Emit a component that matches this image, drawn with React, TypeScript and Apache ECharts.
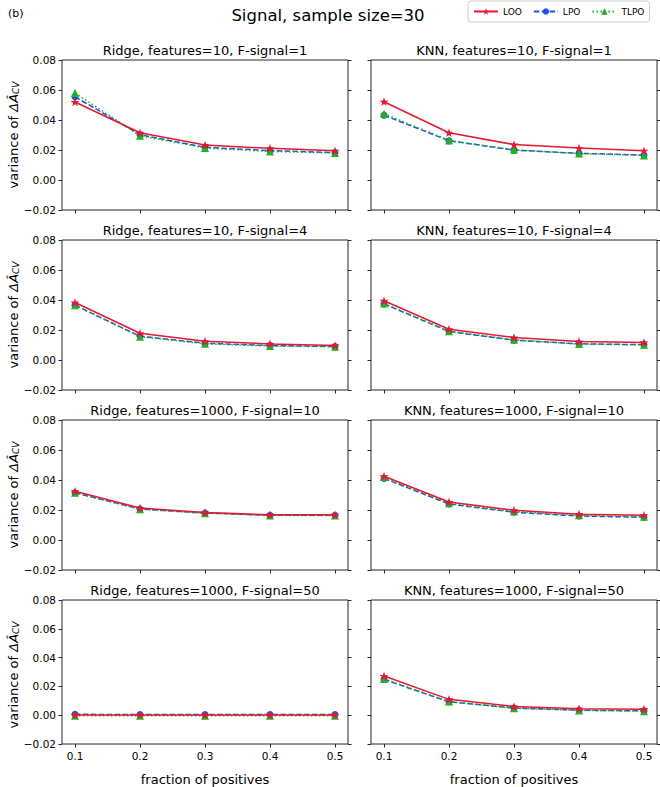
import React, { useEffect, useRef } from "react";
import * as echarts from "echarts";

const fractions = [0.1, 0.2, 0.3, 0.4, 0.5];
const methodNames = ["LOO", "LPO", "TLPO"];
const panelTitles = [
  "Ridge, features=10, F-signal=1",
  "KNN, features=10, F-signal=1",
  "Ridge, features=10, F-signal=4",
  "KNN, features=10, F-signal=4",
  "Ridge, features=1000, F-signal=10",
  "KNN, features=1000, F-signal=10",
  "Ridge, features=1000, F-signal=50",
  "KNN, features=1000, F-signal=50",
];

// Ridge, features=10, F-signal=1
const looRidge10s1 = [0.052, 0.0315, 0.0233, 0.0211, 0.0195];
const lpoRidge10s1 = [0.0555, 0.0302, 0.0218, 0.0196, 0.0183];
const tlpoRidge10s1 = [0.058, 0.0295, 0.0213, 0.019, 0.018];
// KNN, features=10, F-signal=1
const looKnn10s1 = [0.0522, 0.0315, 0.0236, 0.0213, 0.0195];
const lpoKnn10s1 = [0.0432, 0.0262, 0.0199, 0.0178, 0.0166];
const tlpoKnn10s1 = [0.0442, 0.0264, 0.0201, 0.0176, 0.0164];
// Ridge, features=10, F-signal=4
const looRidge10s4 = [0.0383, 0.0178, 0.0125, 0.0107, 0.0096];
const lpoRidge10s4 = [0.0365, 0.0158, 0.0112, 0.0096, 0.009];
const tlpoRidge10s4 = [0.0365, 0.0155, 0.0108, 0.0093, 0.0088];
// KNN, features=10, F-signal=4
const looKnn10s4 = [0.0395, 0.0205, 0.015, 0.0123, 0.0117];
const lpoKnn10s4 = [0.0374, 0.019, 0.0132, 0.0108, 0.0102];
const tlpoKnn10s4 = [0.0376, 0.0192, 0.0135, 0.0106, 0.0101];
// Ridge, features=1000, F-signal=10
const looRidge1000s10 = [0.0325, 0.0213, 0.0183, 0.0168, 0.0168];
const lpoRidge1000s10 = [0.0315, 0.0207, 0.018, 0.0165, 0.0165];
const tlpoRidge1000s10 = [0.0315, 0.0205, 0.0178, 0.0164, 0.0163];
// KNN, features=1000, F-signal=10
const looKnn1000s10 = [0.0425, 0.0253, 0.0198, 0.0172, 0.0165];
const lpoKnn1000s10 = [0.041, 0.024, 0.0185, 0.016, 0.0152];
const tlpoKnn1000s10 = [0.042, 0.0245, 0.019, 0.0165, 0.0155];
// Ridge, features=1000, F-signal=50
const looRidge1000s50 = [0.0002, 0.0002, 0.0002, 0.0002, 0.0002];
const lpoRidge1000s50 = [0.0006, 0.0005, 0.0005, 0.0005, 0.0005];
const tlpoRidge1000s50 = [-0.0004, -0.0004, -0.0004, -0.0004, -0.0004];
// KNN, features=1000, F-signal=50
const looKnn1000s50 = [0.0272, 0.011, 0.006, 0.0045, 0.0042];
const lpoKnn1000s50 = [0.0248, 0.0093, 0.005, 0.0035, 0.003];
const tlpoKnn1000s50 = [0.0252, 0.0095, 0.0048, 0.0033, 0.0028];

const panelData = [
  [looRidge10s1, lpoRidge10s1, tlpoRidge10s1],
  [looKnn10s1, lpoKnn10s1, tlpoKnn10s1],
  [looRidge10s4, lpoRidge10s4, tlpoRidge10s4],
  [looKnn10s4, lpoKnn10s4, tlpoKnn10s4],
  [looRidge1000s10, lpoRidge1000s10, tlpoRidge1000s10],
  [looKnn1000s10, lpoKnn1000s10, tlpoKnn1000s10],
  [looRidge1000s50, lpoRidge1000s50, tlpoRidge1000s50],
  [looKnn1000s50, lpoKnn1000s50, tlpoKnn1000s50],
];

const COLORS = ["#e8182f", "#2350dc", "#1fb41f"];
const STAR =
  "path://M0,-10 L2.35,-3.24 L9.51,-3.09 L3.8,1.24 L5.88,8.09 L0,4 L-5.88,8.09 L-3.8,1.24 L-9.51,-3.09 L-2.35,-3.24 Z";
const SYMBOLS = [STAR, "circle", "triangle"];
const SYMBOL_SIZES = [9, 7, 8];
const LINE_TYPES: any[] = ["solid", [5.5, 2.4], [1.5, 2.5]];
const Z = [5, 3, 4];

const FONT = "DejaVu Sans";
const COL_LEFT = [62, 371];
const PLOT_W = 286;
const ROW_TOP = [60, 240, 420, 600];
const PLOT_H = 150;

function fmtY(v: number) {
  const s = Math.abs(v).toFixed(2);
  return v < -1e-9 ? "\u2212" + s : s;
}

export default function App() {
  const ref = useRef<HTMLDivElement>(null);
  useEffect(() => {
    document.body.style.margin = "0";
    const chart = echarts.init(ref.current!, null, { renderer: "svg" });
    const grids: any[] = [];
    const xAxes: any[] = [];
    const yAxes: any[] = [];
    const series: any[] = [];
    const graphics: any[] = [];

    for (let p = 0; p < 8; p++) {
      const row = Math.floor(p / 2);
      const col = p % 2;
      const left = COL_LEFT[col];
      const top = ROW_TOP[row];
      grids.push({
        left,
        top,
        width: PLOT_W,
        height: PLOT_H,
        show: true,
        borderColor: "#262626",
        borderWidth: 1,
        backgroundColor: "transparent",
      });
      const bottomRow = row === 3;
      xAxes.push({
        type: "value",
        gridIndex: p,
        position: "bottom",
        min: 0.08,
        max: 0.52,
        axisLine: { show: false, onZero: false },
        splitLine: { show: false },
        axisTick: {
          show: true,
          customValues: fractions,
          length: 3.5,
          lineStyle: { color: "#262626", width: 1 },
        },
        axisLabel: {
          show: bottomRow,
          customValues: fractions,
          formatter: (v: number) => v.toFixed(1),
          fontFamily: FONT,
          fontSize: 10.5,
          color: "#000",
          margin: 6,
        },
        name: bottomRow ? "fraction of positives" : "",
        nameLocation: "middle",
        nameGap: 29,
        nameTextStyle: { fontFamily: FONT, fontSize: 13, color: "#000" },
      });
      const leftCol = col === 0;
      yAxes.push({
        type: "value",
        gridIndex: p,
        position: "left",
        min: -0.02,
        max: 0.08,
        interval: 0.02,
        axisLine: { show: false, onZero: false },
        splitLine: { show: false },
        axisTick: { show: true, length: 3.5, lineStyle: { color: "#262626", width: 1 } },
        axisLabel: {
          show: leftCol,
          formatter: fmtY,
          fontFamily: FONT,
          fontSize: 10.5,
          color: "#000",
          margin: 6,
        },
      });
      yAxes.push({
        type: "value",
        gridIndex: p,
        position: "right",
        min: -0.02,
        max: 0.08,
        interval: 0.02,
        axisLine: { show: false, onZero: false },
        splitLine: { show: false },
        axisTick: { show: true, length: 3.5, lineStyle: { color: "#262626", width: 1 } },
        axisLabel: { show: false },
      });

      for (let m = 0; m < 3; m++) {
        const vals = panelData[p][m];
        series.push({
          type: "line",
          name: methodNames[m],
          xAxisIndex: p,
          yAxisIndex: p * 2,
          data: fractions.map((f, i) => [f, vals[i]]),
          symbol: SYMBOLS[m],
          symbolSize: SYMBOL_SIZES[m],
          symbolKeepAspect: true,
          showSymbol: true,
          z: Z[m],
          lineStyle: { color: COLORS[m], width: 1.5, type: LINE_TYPES[m] },
          itemStyle: { color: COLORS[m], borderWidth: 0 },
          emphasis: { disabled: true },
        });
      }

      graphics.push({
        type: "text",
        x: left + PLOT_W / 2,
        y: top - 10,
        style: {
          text: panelTitles[p],
          fontFamily: FONT,
          fontSize: 13,
          fill: "#000",
          textAlign: "center",
          textVerticalAlign: "middle",
        },
      });
      if (leftCol) {
        graphics.push({
          type: "text",
          x: 13,
          y: top + PLOT_H / 2,
          rotation: Math.PI / 2,
          style: {
            text: "{a|variance of }{b|ΔÂ}{c|CV}",
            textAlign: "center",
            textVerticalAlign: "middle",
            rich: {
              a: { fontFamily: FONT, fontSize: 13, fill: "#000" },
              b: { fontFamily: FONT, fontSize: 13, fontStyle: "italic", fill: "#000" },
              c: {
                fontFamily: FONT,
                fontSize: 9,
                fontStyle: "italic",
                fill: "#000",
                verticalAlign: "bottom",
                padding: [5, 0, 0, 0],
              },
            },
          },
        });
      }
    }

    graphics.push({
      type: "text",
      x: 328,
      y: 15,
      style: {
        text: "Signal, sample size=30",
        fontFamily: FONT,
        fontSize: 16.5,
        fill: "#000",
        textAlign: "center",
        textVerticalAlign: "middle",
      },
    });
    graphics.push({
      type: "text",
      x: 8,
      y: 13,
      style: {
        text: "(b)",
        fontFamily: FONT,
        fontSize: 11,
        fill: "#000",
        textAlign: "left",
        textVerticalAlign: "middle",
      },
    });

    chart.setOption({
      animation: false,
      backgroundColor: "#fff",
      grid: grids,
      xAxis: xAxes,
      yAxis: yAxes,
      series,
      graphic: graphics,
      legend: {
        data: methodNames,
        left: 468,
        top: 1,
        orient: "horizontal",
        itemWidth: 24,
        itemHeight: 8,
        itemGap: 11,
        padding: [6, 5, 6, 5],
        borderColor: "#cccccc",
        borderWidth: 1,
        borderRadius: 3,
        textStyle: { fontFamily: FONT, fontSize: 9, color: "#000" },
        selectedMode: false,
      },
    });
    return () => chart.dispose();
  }, []);
  return <div ref={ref} style={{ width: 660, height: 787 }} />;
}
